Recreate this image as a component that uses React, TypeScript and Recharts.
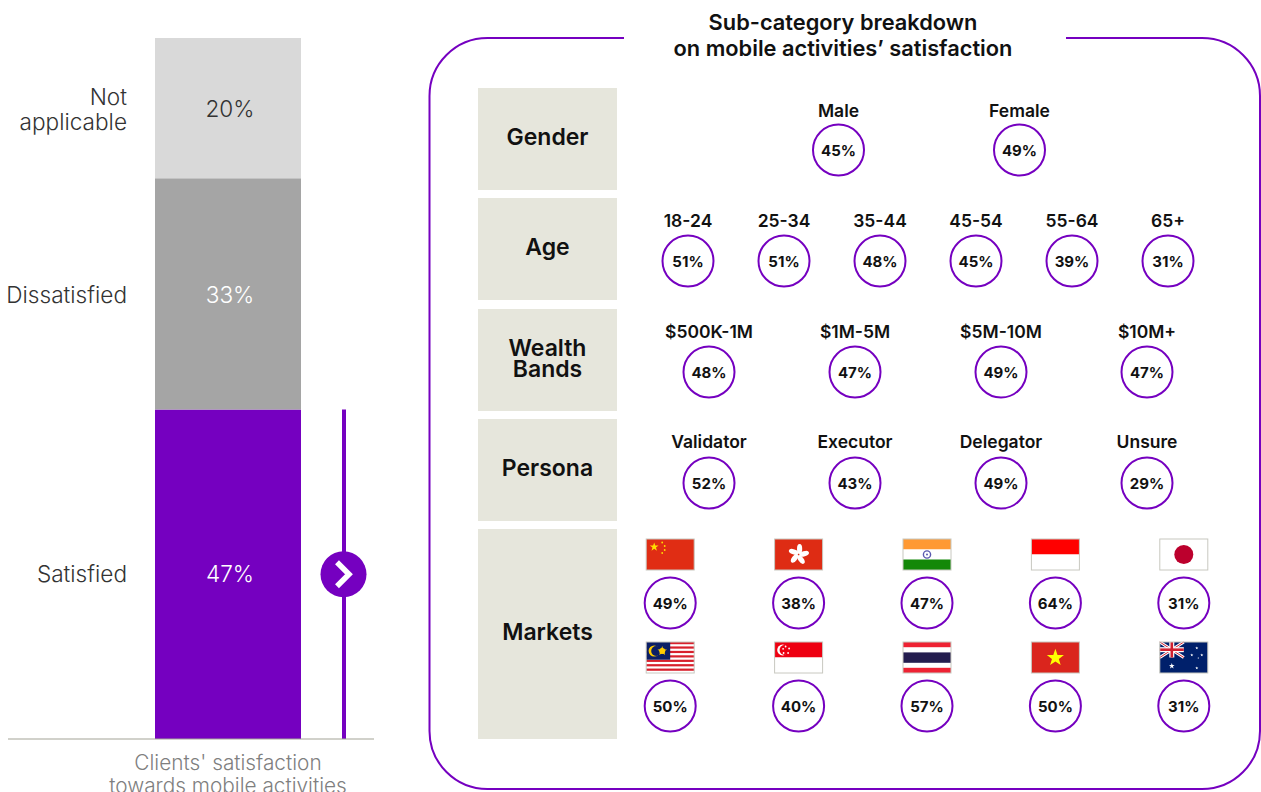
import React from 'react';
import { BarChart, Bar, XAxis, YAxis, LabelList, ScatterChart, Scatter } from 'recharts';

const PURPLE = '#7500C0';
const FONT = 'Inter, "Noto Sans", sans-serif';

// left stacked bar
const stackCategory = "Clients' satisfaction\ntowards mobile activities";
const stackNames = ['Satisfied', 'Dissatisfied', 'Not\napplicable'];
const stackValues = [47, 33, 20];
const stackColors = [PURPLE, '#A5A5A5', '#D9D9D9'];
const stackTextColors = ['#FFFFFF', '#FFFFFF', '#333333'];

// right panel rows
const genderLabels = ['Male', 'Female'];
const genderValues = [45, 49];
const ageLabels = ['18-24', '25-34', '35-44', '45-54', '55-64', '65+'];
const ageValues = [51, 51, 48, 45, 39, 31];
const wealthLabels = ['$500K-1M', '$1M-5M', '$5M-10M', '$10M+'];
const wealthValues = [48, 47, 49, 47];
const personaLabels = ['Validator', 'Executor', 'Delegator', 'Unsure'];
const personaValues = [52, 43, 49, 29];
const marketsTop = ['China', 'Hong Kong', 'India', 'Indonesia', 'Japan'];
const marketsTopValues = [49, 38, 47, 64, 31];
const marketsBottom = ['Malaysia', 'Singapore', 'Thailand', 'Vietnam', 'Australia'];
const marketsBottomValues = [50, 40, 57, 50, 31];

const stackRow = stackNames.reduce<Record<string, any>>(
  (acc, name, i) => ({ ...acc, [name]: stackValues[i] }),
  { name: stackCategory }
);

const star = (cx: number, cy: number, r: number) => {
  const pts: string[] = [];
  for (let i = 0; i < 10; i++) {
    const rad = i % 2 === 0 ? r : r * 0.4;
    const a = -Math.PI / 2 + (i * Math.PI) / 5;
    pts.push(`${cx + rad * Math.cos(a)},${cy + rad * Math.sin(a)}`);
  }
  return pts.join(' ');
};

// flags are 48x31, origin top left
const flagArt = (name: string) => {
  switch (name) {
    case 'China':
      return (
        <g>
          <rect width={48} height={31} fill="#E02D14" />
          <polygon points={star(8, 8, 4.6)} fill="#FFDE00" />
          {[[16, 3.5], [18.5, 7], [18.5, 11], [16, 14]].map(([x, y]) => (
            <circle key={y} cx={x} cy={y} r={0.9} fill="#FFDE00" />
          ))}
        </g>
      );
    case 'Hong Kong':
      return (
        <g>
          <rect width={48} height={31} fill="#DE2C14" />
          {[0, 72, 144, 216, 288].map(a => (
            <ellipse key={a} cx={25} cy={10} rx={2.6} ry={5} fill="#FFFFFF" transform={`rotate(${a} 24 15.5)`} />
          ))}
        </g>
      );
    case 'India':
      return (
        <g>
          <rect width={48} height={10.5} fill="#FF9933" />
          <rect y={10.5} width={48} height={10} fill="#FFFFFF" />
          <rect y={20.5} width={48} height={10.5} fill="#138808" />
          <circle cx={24} cy={15.5} r={3.6} fill="none" stroke="#5A5AB0" strokeWidth={1.4} />
          <circle cx={24} cy={15.5} r={1} fill="#5A5AB0" />
        </g>
      );
    case 'Indonesia':
      return (
        <g>
          <rect width={48} height={15.5} fill="#FF0000" />
          <rect y={15.5} width={48} height={15.5} fill="#FFFFFF" />
        </g>
      );
    case 'Japan':
      return (
        <g>
          <rect width={48} height={31} fill="#FFFFFF" />
          <circle cx={24} cy={15.5} r={9.5} fill="#BC002D" />
        </g>
      );
    case 'Malaysia':
      return (
        <g>
          <rect width={48} height={31} fill="#FFFFFF" />
          {[0, 2, 4, 6, 8, 10, 12].map(i => (
            <rect key={i} y={(i * 31) / 14} width={48} height={31 / 14} fill="#D8202C" />
          ))}
          <rect width={24} height={17.7} fill="#0B1F66" />
          <circle cx={8} cy={9} r={5.6} fill="#FFCC00" />
          <circle cx={10} cy={9} r={5} fill="#0B1F66" />
          <polygon points={star(16, 9, 5)} fill="#FFCC00" />
          <circle cx={16} cy={9} r={3} fill="#FFCC00" />
        </g>
      );
    case 'Singapore':
      return (
        <g>
          <rect width={48} height={15.5} fill="#EE0011" />
          <rect y={15.5} width={48} height={15.5} fill="#FFFFFF" />
          <circle cx={8} cy={8} r={5.4} fill="#FFFFFF" />
          <circle cx={10} cy={8} r={5} fill="#EE0011" />
          {[[11, 4.5], [14.5, 6.5], [13.5, 11], [9, 11], [8.5, 6.8]].map(([x, y]) => (
            <circle key={x} cx={x} cy={y} r={0.9} fill="#FFFFFF" />
          ))}
        </g>
      );
    case 'Thailand':
      return (
        <g>
          <rect width={48} height={31} fill="#FFFFFF" />
          <rect width={48} height={5.2} fill="#EE2233" />
          <rect y={10.4} width={48} height={10.4} fill="#241D4F" />
          <rect y={25.8} width={48} height={5.2} fill="#EE2233" />
        </g>
      );
    case 'Vietnam':
      return (
        <g>
          <rect width={48} height={31} fill="#DA251D" />
          <polygon points={star(24, 15.8, 9)} fill="#FFFF00" />
        </g>
      );
    default:
      return (
        <g>
          <rect width={48} height={31} fill="#00206B" />
          <path d="M0 0L24 15.5M24 0L0 15.5" stroke="#FFFFFF" strokeWidth={3} />
          <path d="M0 0L24 15.5M24 0L0 15.5" stroke="#D02030" strokeWidth={1} />
          <rect x={9.5} width={5} height={15.5} fill="#FFFFFF" />
          <rect y={5.2} width={24} height={5} fill="#FFFFFF" />
          <rect x={10.7} width={2.6} height={15.5} fill="#D02030" />
          <rect y={6.4} width={24} height={2.6} fill="#D02030" />
          <polygon points={star(12, 24, 3)} fill="#FFFFFF" />
          {[[37, 6, 1.6], [32, 13, 1.6], [42, 13, 1.6], [37, 26, 1.6], [38.5, 16, 1]].map(([x, y, r]) => (
            <polygon key={y} points={star(x, y, r)} fill="#FFFFFF" />
          ))}
        </g>
      );
  }
};

const FlagTick = (props: any) => {
  const { x, y, payload } = props;
  return (
    <g transform={`translate(${x - 24},${y - 34})`}>
      {flagArt(payload.value)}
      <rect width={48} height={31} fill="none" stroke="#C8C8C0" strokeWidth={1} />
    </g>
  );
};

const TextTick = (props: any) => {
  const { x, y, payload } = props;
  return (
    <text x={x} y={y - 9.5} textAnchor="middle" dominantBaseline="central" fontFamily={FONT} fontSize={17.5} fontWeight={600} fill="#111111">
      {payload.value}
    </text>
  );
};

const Bubble = (props: any) => {
  const { cx, cy, payload } = props;
  return (
    <g>
      <circle cx={cx} cy={cy} r={25.5} fill="#FFFFFF" stroke={PURPLE} strokeWidth={2} />
      <text x={cx} y={cy} textAnchor="middle" dominantBaseline="central" fontFamily={FONT} fontSize={15} fontWeight={700} fill="#111111">
        {payload.value}%
      </text>
    </g>
  );
};

// the extra 30px bottom margin leaves room so the circles are not clipped by the plot area
const RowChart = ({ labels, values, left, top, width, height, axisHeight, tick }: any) => {
  const data = labels.map((label: string, i: number) => ({ label, row: 'row', value: values[i] }));
  return (
    <div style={{ position: 'absolute', left, top }}>
      <ScatterChart width={width} height={height + 30} margin={{ top: 0, right: 0, bottom: 30, left: 0 }} style={{ overflow: 'visible' }}>
        <XAxis
          dataKey="label"
          type="category"
          orientation="top"
          height={axisHeight}
          axisLine={false}
          tickLine={false}
          interval={0}
          allowDuplicatedCategory={false}
          tick={tick}
        />
        <YAxis dataKey="row" type="category" allowDuplicatedCategory={false} hide />
        <Scatter data={data} dataKey="value" isAnimationActive={false} shape={<Bubble />} />
      </ScatterChart>
    </div>
  );
};

// purple bar also carries the bracket line and arrow to the right panel
const SatisfiedBar = (props: any) => {
  const { x, y, width, height, fill } = props;
  const lineX = x + width + 43;
  const midY = y + height / 2;
  return (
    <g>
      <rect x={x} y={y} width={width} height={height} fill={fill} />
      <line x1={lineX} x2={lineX} y1={y} y2={y + height} stroke={PURPLE} strokeWidth={4} />
      <circle cx={lineX - 0.5} cy={midY} r={23} fill={PURPLE} />
      <path
        d={`M${lineX - 7} ${midY - 12} L${lineX + 5} ${midY} L${lineX - 7} ${midY + 12}`}
        fill="none"
        stroke="#FFFFFF"
        strokeWidth={5.5}
      />
    </g>
  );
};

const SideLabel = (name: string, dy: number) => (props: any) => {
  const { viewBox } = props;
  const lines = name.split('\n');
  const midY = viewBox.y + viewBox.height / 2;
  return (
    <text textAnchor="end" fontFamily={FONT} fontSize={22.6} fontWeight={300} fill="#333333">
      {lines.map((line, i) => (
        <tspan key={line} x={viewBox.x - 28} y={midY + dy + (i - (lines.length - 1) / 2) * 25} dominantBaseline="central">
          {line}
        </tspan>
      ))}
    </text>
  );
};

const CategoryTick = (props: any) => {
  const { x, y, payload } = props;
  return (
    <text textAnchor="middle" fontFamily={FONT} fontSize={20.8} fontWeight={300} fill="#7F7F7F">
      {String(payload.value).split('\n').map((line, i) => (
        <tspan key={line} x={x} y={y + 23 + i * 22.5}>
          {line}
        </tspan>
      ))}
    </text>
  );
};

const rowBoxes = [
  { title: 'Gender', top: 88, height: 102 },
  { title: 'Age', top: 198, height: 102 },
  { title: 'Wealth\nBands', top: 309, height: 102 },
  { title: 'Persona', top: 419, height: 102 },
  { title: 'Markets', top: 529, height: 210 },
];

export default function App() {
  return (
    <div style={{ position: 'absolute', left: 0, top: 0, width: 1261, height: 792, overflow: 'hidden', background: '#FFFFFF', fontFamily: FONT }}>
      <div style={{ position: 'absolute', left: 0, top: 0 }}>
        <BarChart width={400} height={792} data={[stackRow]} margin={{ top: 38, right: 26, bottom: 0, left: 8 }} barCategoryGap={0}>
          <XAxis
            dataKey="name"
            height={53}
            padding={{ left: 74, right: 0 }}
            axisLine={{ stroke: '#A3A396', strokeWidth: 1 }}
            tickLine={false}
            interval={0}
            tick={<CategoryTick />}
          />
          <YAxis hide domain={[0, 100]} />
          {stackNames.map((name, i) => (
            <Bar
              key={name}
              dataKey={name}
              stackId="a"
              barSize={146}
              fill={stackColors[i]}
              isAnimationActive={false}
              shape={i === 0 ? <SatisfiedBar /> : undefined}
            >
              <LabelList
                dataKey={name}
                position="center"
                formatter={(v: any) => `${v}%`}
                fill={stackTextColors[i]}
                fontFamily={FONT}
                fontSize={22.6}
                fontWeight={300}
                dx={2}
                dy={i === 0 ? 0 : 1}
              />
              <LabelList dataKey={name} content={SideLabel(name, i === 0 ? -0.5 : 1)} />
            </Bar>
          ))}
        </BarChart>
      </div>

      <svg width={1261} height={792} style={{ position: 'absolute', left: 0, top: 0 }}>
        <rect x={429.5} y={38} width={830.5} height={751} rx={58} fill="none" stroke={PURPLE} strokeWidth={2} />
        <rect x={624} y={30} width={442} height={16} fill="#FFFFFF" />
      </svg>

      <div style={{ position: 'absolute', left: 622, width: 442, top: 10, textAlign: 'center', fontSize: 21.8, fontWeight: 600, lineHeight: '25.5px', color: '#111111', whiteSpace: 'nowrap' }}>
        Sub-category breakdown
        <br />
        on mobile activities’ satisfaction
      </div>

      {rowBoxes.map(b => (
        <div
          key={b.title}
          style={{
            position: 'absolute', left: 478, top: b.top, width: 139, height: b.height - 3, paddingBottom: 3, background: '#E6E6DC',
            display: 'flex', alignItems: 'center', justifyContent: 'center', textAlign: 'center',
            fontSize: 23, fontWeight: 600, lineHeight: '21px', color: '#111111', whiteSpace: 'pre-line',
          }}
        >
          {b.title}
        </div>
      ))}

      <RowChart labels={genderLabels} values={genderValues} left={747.5} top={88} width={362} height={84} axisHeight={40} tick={<TextTick />} />
      <RowChart labels={ageLabels} values={ageValues} left={640} top={198} width={576} height={86} axisHeight={40} tick={<TextTick />} />
      <RowChart labels={wealthLabels} values={wealthValues} left={636} top={309} width={584} height={86} axisHeight={40} tick={<TextTick />} />
      <RowChart labels={personaLabels} values={personaValues} left={636} top={419} width={584} height={88} axisHeight={40} tick={<TextTick />} />
      <RowChart labels={marketsTop} values={marketsTopValues} left={606} top={529} width={642} height={96} axisHeight={52} tick={<FlagTick />} />
      <RowChart labels={marketsBottom} values={marketsBottomValues} left={606} top={632} width={642} height={96} axisHeight={52} tick={<FlagTick />} />
    </div>
  );
}
